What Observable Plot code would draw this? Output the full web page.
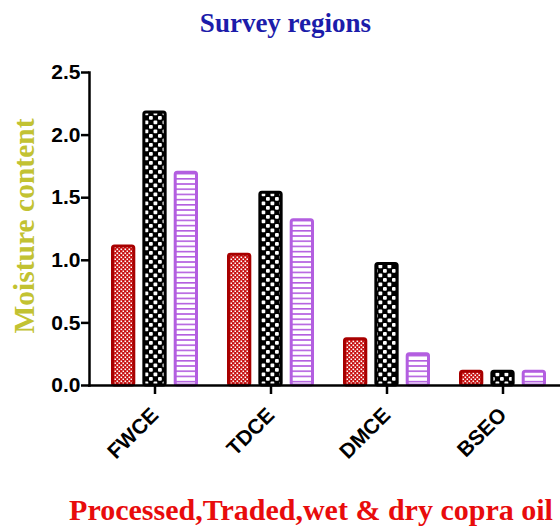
<!DOCTYPE html>
<html>
<head>
<meta charset="utf-8">
<script src="https://cdn.jsdelivr.net/npm/d3@7"></script>
<script src="https://cdn.jsdelivr.net/npm/@observablehq/plot@0.6"></script>
<style>
  html, body { margin: 0; padding: 0; background: #fff; }
  #title { height: 48px; box-sizing: border-box; padding-top: 10px; padding-left: 11px; text-align: center;
    font: bold 27px "Liberation Serif", "Times New Roman", serif; color: #1c1caa; line-height: 27px; }
  #chart svg { display: block; }
</style>
</head>
<body>
<div id="title">Survey regions</div>
<div id="chart"></div>
<script>
const regions = ["FWCE", "TDCE", "DMCE", "BSEO"];
const seriesNames = ["Processed", "Traded", "Wet & dry copra"];
const series1 = [1.11, 1.045, 0.37, 0.11];
const series2 = [2.18, 1.54, 0.97, 0.11];
const series3 = [1.70, 1.32, 0.25, 0.11];
const yTicks = [0, 0.5, 1.0, 1.5, 2.0, 2.5];
const yLabel = "Moisture content";
const xLabel = "Processed,Traded,wet & dry copra oil";

const rows = (vals, s) => regions.map((r, i) => ({region: r, series: s, value: vals[i]}));
const d1 = rows(series1, seriesNames[0]);
const d2 = rows(series2, seriesNames[1]);
const d3rows = rows(series3, seriesNames[2]);

const barBase = {x: "region", y: "value", strokeWidth: 3, rx: 2};

const chart = Plot.plot({
  width: 560,
  height: 483,
  marginLeft: 89,
  marginRight: 0,
  marginTop: 24,
  marginBottom: 146,
  style: {background: "#fff", overflow: "visible"},
  x: {domain: regions, range: [89, 567], paddingInner: 0.25, paddingOuter: 0.18},
  y: {domain: [0, 2.5]},
  marks: [
    Plot.barY(d1, {...barBase, fill: "url(#patRed)", stroke: "#a80000", insetLeft: 1.5, insetRight: 64.2}),
    Plot.barY(d2, {...barBase, fill: "url(#patBlack)", stroke: "#000", insetLeft: 32.85, insetRight: 32.85}),
    Plot.barY(d3rows, {...barBase, fill: "url(#patPurple)", stroke: "#b35ee0", insetLeft: 64.2, insetRight: 1.5}),
    Plot.frame({anchor: "left", strokeWidth: 2.5}),
    Plot.frame({anchor: "bottom", strokeWidth: 2.5}),
    Plot.axisY({ticks: yTicks, tickFormat: d3.format(".1f"), tickSize: 8, tickPadding: 1, strokeWidth: 2.5,
      fontSize: 21, fontWeight: "bold", fontFamily: "Liberation Sans, Arial, sans-serif", label: null}),
    Plot.axisX({tickSize: 9, tickPadding: 17, strokeWidth: 2.5, tickRotate: -45,
      fontSize: 21, fontWeight: "bold", fontFamily: "Liberation Sans, Arial, sans-serif", label: null}),
    Plot.text([yLabel], {text: d => d, frameAnchor: "left", textAnchor: "middle", rotate: -90, dx: -65, dy: -3,
      fill: "#c2c232", fontSize: 29.5, fontWeight: "bold", fontFamily: "Liberation Serif, Times New Roman, serif"}),
    Plot.text([xLabel], {text: d => d, frameAnchor: "bottom", lineAnchor: "bottom", dx: -14, dy: 134,
      fill: "#e80c0c", fontSize: 30, fontWeight: "bold", fontFamily: "Liberation Serif, Times New Roman, serif"})
  ]
});

const defs = d3.select(chart).insert("defs", ":first-child");
// fine red checker
const pr = defs.append("pattern").attr("id", "patRed").attr("patternUnits", "userSpaceOnUse").attr("width", 4).attr("height", 4);
pr.append("rect").attr("width", 4).attr("height", 4).attr("fill", "#c81010");
pr.append("rect").attr("x", 0.5).attr("y", 0.5).attr("width", 1.6).attr("height", 1.6).attr("fill", "#fff");
pr.append("rect").attr("x", 2.5).attr("y", 2.5).attr("width", 1.6).attr("height", 1.6).attr("fill", "#fff");
// coarse black checker
const pb = defs.append("pattern").attr("id", "patBlack").attr("patternUnits", "userSpaceOnUse").attr("width", 9).attr("height", 9);
pb.append("rect").attr("width", 9).attr("height", 9).attr("fill", "#000");
pb.append("rect").attr("x", 0.5).attr("y", 0.5).attr("width", 3.8).attr("height", 3.8).attr("rx", 1).attr("fill", "#fff");
pb.append("rect").attr("x", 5).attr("y", 5).attr("width", 3.8).attr("height", 3.8).attr("rx", 1).attr("fill", "#fff");
// purple horizontal stripes
const pp = defs.append("pattern").attr("id", "patPurple").attr("patternUnits", "userSpaceOnUse").attr("width", 6).attr("height", 5.2);
pp.append("rect").attr("width", 6).attr("height", 5.2).attr("fill", "#fff");
pp.append("rect").attr("y", 0).attr("width", 6).attr("height", 1.6).attr("fill", "#b35ee0");

document.getElementById("chart").appendChild(chart);
</script>
</body>
</html>
